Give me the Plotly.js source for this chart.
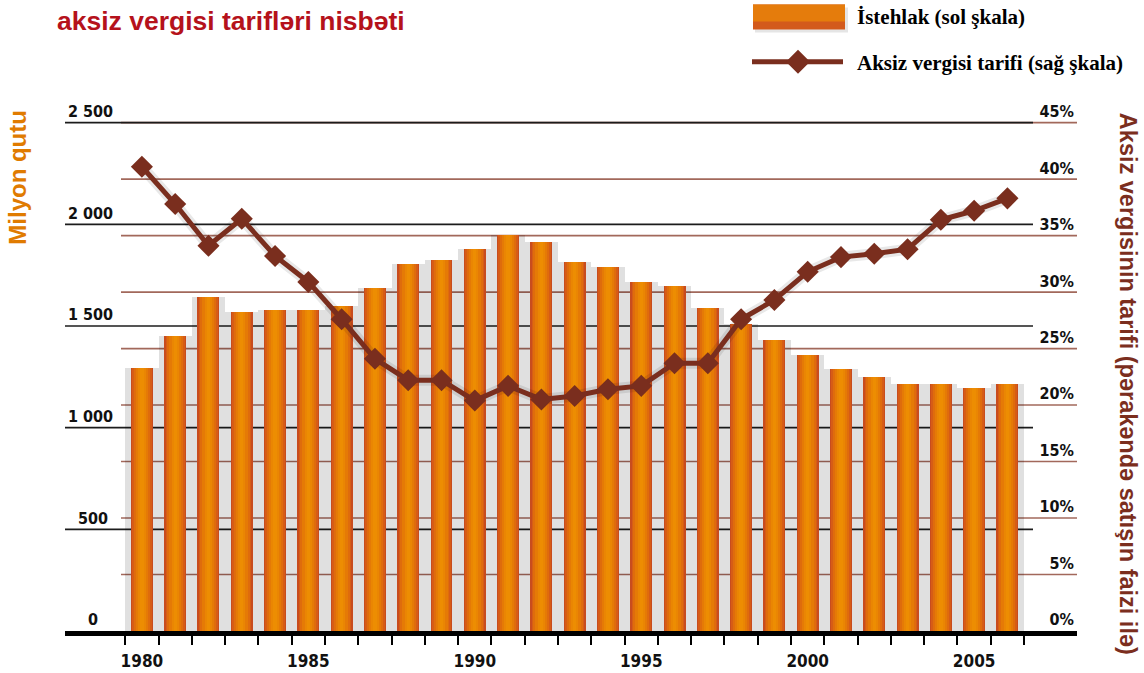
<!DOCTYPE html>
<html>
<head>
<meta charset="utf-8">
<script src="https://cdn.plot.ly/plotly-3.0.1.min.js"></script>
<style>html,body{margin:0;padding:0;background:#fff;}#chart{width:1144px;height:673px;}</style>
</head>
<body>
<div id="chart"></div>
<script>
// ---- data ----
const years = [1980,1981,1982,1983,1984,1985,1986,1987,1988,1989,1990,1991,1992,1993,1994,1995,1996,1997,1998,1999,2000,2001,2002,2003,2004,2005,2006];
const consumption = [1293,1452,1645,1568,1581,1581,1596,1686,1803,1824,1878,1947,1913,1816,1790,1714,1699,1591,1509,1432,1355,1288,1251,1217,1217,1197,1217];
const taxRate = [41.1,37.8,34.1,36.5,33.2,30.9,27.6,24.1,22.2,22.2,20.4,21.7,20.5,20.8,21.4,21.7,23.7,23.7,27.6,29.3,31.8,33.1,33.4,33.8,36.4,37.2,38.3];
const xLabelYears = [1980,1985,1990,1995,2000,2005];
const leftTickVals = [0,500,1000,1500,2000,2500];
const leftTickText = ['\u2007\u20070','\u2007500','1 000','1 500','2 000','2 500'];
const rightTickVals = [0,5,10,15,20,25,30,35,40,45];
const rightTickText = ['0%','5%','10%','15%','20%','25%','30%','35%','40%','45%'];
const titleText = 'aksiz vergisi tarifləri nisbəti';
const leftTitle = 'Milyon qutu';
const rightTitle = 'Aksiz vergisinin tarifi (pərakəndə satışın faizi ilə)';
const barName = 'İstehlak (sol şkala)';
const lineName = 'Aksiz vergisi tarifi (sağ şkala)';

// ---- geometry helpers (pixel -> paper) ----
const L = 65, R = 1077, B = 631;
const yTopLeft = 2700, yTopRight = 48.6;           // headroom above the top tick so its label fits
const T = B - 508 * yTopLeft / 2500;               // 2500 / 45% sit at y = 123 px
const PX = p => (p - L) / (R - L);
const PY = p => (B - p) / (B - T);

const tickFont = {family: 'Liberation Sans Narrow, DejaVu Sans Condensed, sans-serif', size: 16, color: '#111', weight: 'bold'};

// ---- bar layers (stepped gradient) ----
const traces = [];
traces.push({type: 'bar', x: years, y: consumption, width: 1.0, marker: {color: 'rgba(0,0,0,0.12)', line: {width: 0}}, hoverinfo: 'skip', showlegend: false});
const layers = [
  {w: 0.66, c: '#c84c1e'},
  {w: 0.58, c: '#d65c16'},
  {w: 0.48, c: '#df6c0c'},
  {w: 0.36, c: '#e57a06'},
  {w: 0.22, c: '#ea8603'},
  {w: 0.10, c: '#ed8d02'}
];
layers.forEach((ly, i) => {
  traces.push({type: 'bar', x: years, y: consumption, width: ly.w, name: barName,
    marker: {color: ly.c, line: {width: 0}}, showlegend: false, hoverinfo: i === 0 ? 'x+y' : 'skip'});
});
// ---- tax line ----
traces.push({type: 'scatter', mode: 'lines', x: years, y: taxRate, yaxis: 'y2',
  line: {color: 'rgba(0,0,0,0.09)', width: 11}, hoverinfo: 'skip', showlegend: false});
traces.push({type: 'scatter', mode: 'lines+markers', x: years, y: taxRate, yaxis: 'y2', name: lineName,
  line: {color: '#7a2e1e', width: 5}, marker: {symbol: 'diamond', size: 17, color: '#7a2e1e'}, showlegend: false});

// ---- gridline shapes from tick arrays ----
const shapes = [];
rightTickVals.filter(v => v > 0).forEach(v => shapes.push({type: 'line', layer: 'below', xref: 'paper', yref: 'y2',
  x0: PX(121), x1: 1, y0: v, y1: v, line: {color: '#a2685b', width: 1.6}}));
leftTickVals.filter(v => v > 0).forEach(v => shapes.push({type: 'line', layer: 'below', xref: 'paper', yref: 'y',
  x0: 0, x1: PX(1033), y0: v, y1: v, line: {color: '#1c1c1c', width: 1.6}}));
// legend symbols
shapes.push({type: 'rect', xref: 'paper', yref: 'paper', x0: PX(755), x1: PX(848), y0: PY(33), y1: PY(8), fillcolor: 'rgba(0,0,0,0.10)', line: {width: 0}});
shapes.push({type: 'rect', xref: 'paper', yref: 'paper', x0: PX(753), x1: PX(845), y0: PY(30), y1: PY(5), fillcolor: '#d35a1c', line: {width: 0}});
shapes.push({type: 'rect', xref: 'paper', yref: 'paper', x0: PX(753), x1: PX(845), y0: PY(22), y1: PY(5), fillcolor: '#e57c0c', line: {width: 0}});
shapes.push({type: 'line', xref: 'paper', yref: 'paper', x0: PX(752), x1: PX(843), y0: PY(62), y1: PY(62), line: {color: '#7a2e1e', width: 5}});
shapes.push({type: 'path', xref: 'paper', yref: 'paper', xsizemode: 'pixel', ysizemode: 'pixel', xanchor: PX(798), yanchor: PY(62),
  path: 'M -12 0 L 0 12 L 12 0 L 0 -12 Z', fillcolor: '#7a2e1e', line: {width: 0}});

const annotations = [
  {text: titleText, xref: 'paper', yref: 'paper', x: PX(55), y: PY(21), xanchor: 'left', yanchor: 'middle', showarrow: false,
   font: {family: 'Liberation Sans, Arial, sans-serif', size: 26.5, color: '#b5121b', weight: 'bold'}},
  {text: leftTitle, xref: 'paper', yref: 'paper', x: PX(18), y: PY(178), xanchor: 'center', yanchor: 'middle', textangle: -90, showarrow: false,
   font: {family: 'Liberation Sans, Arial, sans-serif', size: 24, color: '#e07b00', weight: 'bold'}},
  {text: rightTitle, xref: 'paper', yref: 'paper', x: PX(1128), y: PY(384), xanchor: 'center', yanchor: 'middle', textangle: 90, showarrow: false,
   font: {family: 'Liberation Sans, Arial, sans-serif', size: 23.5, color: '#7b2e1e', weight: 'bold'}},
  {text: barName, xref: 'paper', yref: 'paper', x: PX(855), y: PY(17), xanchor: 'left', yanchor: 'middle', showarrow: false,
   font: {family: 'Liberation Serif, Times New Roman, serif', size: 21, color: '#000', weight: 'bold'}},
  {text: lineName, xref: 'paper', yref: 'paper', x: PX(855), y: PY(63), xanchor: 'left', yanchor: 'middle', showarrow: false,
   font: {family: 'Liberation Serif, Times New Roman, serif', size: 21, color: '#000', weight: 'bold'}}
];

const boundaries = years.map(y => y - 0.5).concat([years[years.length - 1] + 0.5]);

const layout = {
  width: 1144, height: 673,
  margin: {l: L, r: 1144 - R, t: T, b: 673 - B},
  paper_bgcolor: '#fff', plot_bgcolor: '#fff',
  barmode: 'overlay', bargap: 0,
  showlegend: false,
  xaxis: {range: [1977.69, 2008.09], showline: true, linewidth: 5, linecolor: '#000', showgrid: false, zeroline: false,
    tickmode: 'array', tickvals: xLabelYears, ticks: '', tickfont: {...tickFont, size: 17}, ticklabelstandoff: 11,
    minor: {tickmode: 'array', tickvals: boundaries, ticks: 'outside', ticklen: 9, tickwidth: 2, tickcolor: '#000', showgrid: false}},
  yaxis: {range: [0, yTopLeft], tickmode: 'array', tickvals: leftTickVals, ticktext: leftTickText, ticklabelposition: 'inside top',
    showgrid: false, zeroline: false, showline: false, ticks: '', tickfont: tickFont},
  yaxis2: {range: [0, yTopRight], overlaying: 'y', side: 'right', tickmode: 'array', tickvals: rightTickVals, ticktext: rightTickText,
    ticklabelposition: 'inside top', showgrid: false, zeroline: false, showline: false, ticks: '', tickfont: tickFont},
  shapes: shapes,
  annotations: annotations
};

Plotly.newPlot('chart', traces, layout, {displayModeBar: false, staticPlot: true});
</script>
</body>
</html>
